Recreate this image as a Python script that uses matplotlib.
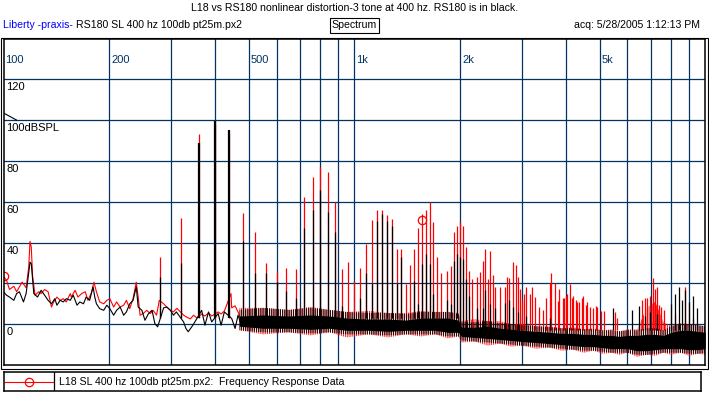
import numpy as np
import matplotlib
matplotlib.use("Agg")
import matplotlib.pyplot as plt
from matplotlib.patches import Rectangle

plt.rcParams['font.family'] = ['Liberation Sans', 'DejaVu Sans']
plt.rcParams['hatch.linewidth'] = 0.6

W, H = 709, 395
navy = '#003366'

# --- low frequency traces (100 - 480 Hz) ---
red_f = [100, 102, 104, 107, 109, 111, 113, 116, 118, 119,
         120, 121, 123, 126, 128, 131, 134, 137, 139, 142,
         145, 148, 151, 155, 156, 160, 163, 167, 171, 174,
         178, 181, 184, 188, 193, 197, 201, 206, 210, 215,
         220, 224, 229, 234, 239, 242, 245, 250, 256, 262,
         267, 273, 278, 286, 292, 299, 305, 312, 326, 333,
         341, 348, 356, 367, 375, 384, 392, 409, 417, 426,
         445, 447, 457, 466, 476]
red_db = [23.4, 21.5, 17, 18.6, 15.9, 18.3, 20.6, 17.9, 28, 40.6,
          37.7, 23.9, 14.2, 15.9, 15, 17, 15.9, 8.4, 10.9, 13.3,
          11.7, 12.5, 10.9, 15, 13.3, 16.6, 13.3, 15, 15.9, 11.7,
          15.3, 20.6, 15.9, 10.9, 10, 11.7, 12.5, 8.4, 10.9, 8.4,
          9.3, 11.7, 7.6, 12.5, 20.6, 13.3, 4.4, 5.2, 6.8, 5.2,
          6.8, 4.4, 11.7, 10, 8.4, 6.8, 6, 7.8, 4.4, 3.4,
          2.6, 4.4, 3, 5, 4, 5.5, 4, 6, 5, 6.5,
          15, 8, 9, 6, 2]

black_f = [100, 102, 104, 107, 109, 111, 114, 116, 119, 120,
           122, 125, 128, 131, 134, 137, 140, 142, 145, 148,
           151, 155, 158, 162, 165, 169, 172, 176, 180, 182,
           184, 188, 193, 197, 201, 206, 210, 215, 220, 224,
           229, 234, 239, 242, 248, 253, 259, 265, 270, 275,
           286, 292, 299, 305, 311, 326, 331, 336, 344, 351,
           367, 375, 384, 392, 409, 417, 426, 447, 457, 466,
           476]
black_db = [15.9, 14.2, 13.3, 11.7, 15, 15.9, 10.9, 15, 30.4, 29.6,
            15, 13.3, 16.6, 14.2, 11.7, 10, 12.5, 9.3, 11.7, 10.9,
            12.5, 11.7, 14.2, 9.3, 10.9, 10, 13.3, 11.7, 18.3, 13.3,
            10, 7.6, 6.8, 9.3, 7.6, 4.4, 6.8, 8.4, 4.4, 6,
            10, 11.7, 18.3, 8.4, 6.8, 1.9, 5.2, 6.8, 0.3, -1.3,
            8, 8.4, 6.8, 4.4, 6, 1.1, -2.1, -3.7, -1.3, 1.1,
            6.8, -0.5, 6, 1.1, 5.2, -0.5, 6, 2.8, -2.1, 4.4,
            -0.5]

# --- dense noise band above 470 Hz: outer edges and solid core ---
band_f = [470, 550, 650, 750, 850, 950, 1100, 1250, 1400, 1550,
          1700, 1850, 1980, 2020, 2200, 2400, 2600, 2800, 3000, 3300,
          3600, 3900, 4200, 4500, 4800, 5100, 5400, 5700, 6000, 6400,
          6800, 7200, 7600, 8000, 8500, 9000, 9500, 10000]
black_hi = [7, 8, 7, 8, 7, 6, 5.5, 5.5, 5, 6,
            6, 6, 5, 1, 1, 1.5, 0.5, 0, -0.5, -1,
            -1.5, -2, -2, -2.5, -2.5, -3, -3, -3.5, -3, -3,
            -2, -2, -3, -1, 0, 0, -0.5, -1]
black_lo = [-3, -4, -4, -4.5, -4, -5, -5, -5.5, -5, -5,
            -5, -6, -6, -8, -8.5, -9, -9.5, -10, -10.5, -11,
            -11.5, -12, -12.5, -13, -13, -13.5, -14, -14, -14, -15,
            -15, -14.5, -14, -14, -14, -14.5, -14.5, -14]
core_hi = [4, 4.5, 4, 4.5, 4, 3, 2.5, 2.5, 2, 3,
           3, 3, 2, -1.5, -1.5, -1, -2, -2.5, -3, -3.5,
           -4, -4.5, -4.5, -5, -5, -5.5, -5.5, -6, -5.5, -5.5,
           -5, -5, -5.5, -4, -3, -3, -3.5, -4]
core_lo = [-1, -2, -2, -2.5, -2, -3, -3, -3.5, -3, -3,
           -3, -4, -4, -6, -6.5, -7, -7.5, -8, -8.5, -9,
           -9.5, -10, -10.5, -11, -11, -11.5, -12, -12, -12, -13,
           -13, -12.5, -12, -12, -12, -12.5, -12.5, -12]
red_hi = [8, 8, 7, 8.5, 7, 6, 6.5, 5.5, 5.5, 6.5,
          6, 6, 5.5, 1.5, 2.5, 1.5, 1.5, 0, 0, -1,
          -1, -2, -1.5, -2.5, -2, -3, -2.5, -3.5, -2.5, -2.5,
          8, 11, 1, -1, 0.5, 0, -0.5, -1]
red_lo = [-3, -5, -4, -5.5, -4, -6.5, -5, -6.5, -5, -6,
          -5, -7, -6, -9, -8.5, -10.5, -9.5, -11, -10.5, -12,
          -11.5, -13, -12.5, -14, -13, -14.5, -14, -15, -14, -16,
          -15, -15.5, -14, -15, -14, -15.5, -14.5, -15]

# --- distortion product peaks (Hz, dB) ---
nan = np.nan
spike_f = [280, 320, 360, 400, 440, 480, 520, 560,
           600, 640, 680, 720, 760, 800, 840, 880,
           920, 960, 1000, 1040, 1080, 1120, 1160, 1200,
           1240, 1280, 1320, 1360, 1400, 1440, 1480, 1520,
           1560, 1600, 1640, 1680, 1720, 1760, 1840, 1880,
           1920, 1960, 2000, 2040, 2080, 2120, 2160, 2240,
           2280, 2320, 2360, 2400, 2440, 2480, 2520, 2600,
           2680, 2720, 2760, 2840, 2880, 2920, 2960, 3000,
           3040, 3080, 3160, 3200, 3280, 3360, 3440, 3520,
           3600, 3640, 3720, 3800, 3840, 3920, 3960, 4000,
           4040, 4120, 4160, 4200, 4280, 4320, 4360, 4440,
           4480, 4560, 4600, 4680, 4800, 4880, 4920, 5040,
           5160, 5440, 5520, 5600, 6200, 6480, 6600, 6720,
           6840, 6960, 7080, 7200, 7280, 7400, 7480, 7640,
           8000, 8200, 8400, 8560, 8760, 9000, 9200, 9480]
red_peak = [33, 52, 93, 98, 93, 54.5, 45, 30,
            25.5, 27.5, 27, 62.4, 72, 77, 74.6, 60,
            27, 30.4, 21, 27.5, 39.5, 51, 56, 56,
            53.7, 51.7, 37, 37, 19.5, 29, 37, 47,
            54, 56, 59.7, 50, 33, 25, 26, 28.5,
            45, 48, 50, 48, 38, 26, 22, 23,
            25.5, 31, 37, 22, 36, 24, 18, 18,
            18, 23, 22.5, 30.6, 29, 23, 17, 12,
            15, 18, 15, 18, 13.4, 8.5, 7, 13,
            20, 25, 20, 11.5, 17, 12.7, 12.7, 14,
            15, 19.5, 13, 14, 12, 11, 11, 13,
            14, 9.4, 11, 8.5, 7.8, 9, 8.5, 6.5,
            6.5, nan, 6, 3, nan, nan, 12, 13,
            13, 14, 22.6, 17, 18.4, 9.4, 8.5, 7,
            nan, 5, nan, nan, 18, nan, 3, nan]
black_peak = [23, 30, 89, 99.5, 95, 41, 25, 25,
              20.5, 16.5, 12.7, 47, 56, 66, 55, 45,
              9, nan, nan, 13, 25, 20, 50.6, 54,
              50.6, 48, 20, 33, nan, nan, 21, 10,
              29.7, 34.6, 29.7, 15, nan, nan, 12, 10,
              31, 34.6, 32.8, 32, 22, 14, nan, 8,
              nan, 7.8, 16.6, nan, 10, nan, 8, nan,
              10.4, nan, 12, 8.6, nan, 6, nan, nan,
              nan, 4, nan, nan, nan, nan, nan, nan,
              3, nan, nan, nan, nan, nan, nan, nan,
              nan, nan, nan, nan, nan, nan, nan, nan,
              nan, nan, nan, nan, nan, nan, nan, nan,
              nan, 8, nan, nan, 7, 9, nan, 4,
              nan, 6, nan, nan, 5, nan, nan, nan,
              10, 15, 18, 12, 16.6, 11, 14, 8]

cursor_f, cursor_db = 1560, 51
ref_level = 100

freq_ticks = [100, 200, 500, 1000, 2000, 5000]
freq_labels = ['100', '200', '500', '1k', '2k', '5k']
db_ticks = [120, 100, 80, 60, 40, 0]
db_labels = ['120', '100dBSPL', '80', '60', '40', '0']

title = 'L18 vs RS180 nonlinear distortion-3 tone at 400 hz. RS180 is in black.'
legend_label = 'L18 SL 400 hz 100db pt25m.px2:  Frequency Response Data'


def fx(x):
    return x / W


def fy(y):
    return 1 - y / H


fig = plt.figure(figsize=(W / 100, H / 100), dpi=100)
ax = fig.add_axes([fx(3.5), fy(365), fx(705.3) - fx(3.5), fy(38.5) - fy(365)])
ax.set_xscale('log')
ax.set_xlim(100, 10000)
ax.set_ylim(-20, 140)

minor = [m * d for d in (100, 1000) for m in range(1, 10)][1:]
for f in minor:
    ax.axvline(f, color=navy, lw=0.9, zorder=1)
for v in range(0, 140, 20):
    ax.axhline(v, color=navy, lw=0.9, zorder=1)

spike_f = np.array(spike_f)
base = np.where(spike_f < 2000, 3, -3)
lw_spk = np.where(np.nan_to_num(black_peak) > 80, 1.6, 0.9)

# red series first, black on top
ax.plot(red_f, red_db, color='red', lw=0.8, zorder=2,
        marker='o', markevery=[0], mfc='none', mec='red', ms=6, mew=0.9)
ax.fill_between(band_f, red_lo, red_hi, facecolor='none', edgecolor='red',
                hatch='|' * 9, lw=0, zorder=2)
ax.vlines(spike_f, base, red_peak, color='red', lw=0.9, zorder=2)

ax.plot(black_f, black_db, color='black', lw=0.8, zorder=3)
ax.fill_between(band_f, black_lo, black_hi, facecolor='none', edgecolor='black',
                hatch='|' * 9, lw=0, zorder=3)
ax.fill_between(band_f, core_lo, core_hi, color='black', lw=0, zorder=3)
ax.vlines(spike_f, base, black_peak, color='black', lw=lw_spk, zorder=3)

ax.plot([cursor_f], [cursor_db], 'o', mfc='none', mec='red', ms=6, mew=0.9, zorder=4)
ax.plot([100, 109], [ref_level + 3.5, ref_level], color='black', lw=0.8, zorder=4)

for f, lab in zip(freq_ticks, freq_labels):
    ax.annotate(lab, xy=(f, 129.5), xytext=(2, 0), textcoords='offset pixels',
                va='center', ha='left', color=navy, fontsize=8, zorder=5)
for v, lab in zip(db_ticks, db_labels):
    ax.annotate(lab, xy=(0, v), xycoords=('axes fraction', 'data'), xytext=(3, -3),
                textcoords='offset pixels', va='top', ha='left', color='black',
                fontsize=8, zorder=5)

ax.set_xticks([])
ax.set_yticks([])
ax.minorticks_off()
for s in ax.spines.values():
    s.set_linewidth(1.1)
    s.set_color('black')
    s.set_zorder(6)

# outer frame
fig.add_artist(Rectangle((fx(0.5), fy(368.5)), fx(707.5), fy(37.5) - fy(368.5),
                         transform=fig.transFigure, fill=False, ec='black', lw=0.8))

# header texts
hs = 7.6
fig.text(fx(354.5), fy(8), title, ha='center', va='center', fontsize=hs)
fig.text(fx(3), fy(25.5), 'Liberty -praxis-', ha='left', va='center', fontsize=hs, color='#0000ff')
fig.text(fx(76), fy(25.5), 'RS180 SL 400 hz 100db pt25m.px2', ha='left', va='center', fontsize=hs)
fig.text(fx(354.5), fy(25.5), 'Spectrum', ha='center', va='center', fontsize=hs,
         bbox=dict(boxstyle='square,pad=0.2', fc='white', ec='black', lw=0.8))
fig.text(fx(700), fy(25.5), 'acq: 5/28/2005 1:12:13 PM', ha='right', va='center', fontsize=hs)

# legend box
lax = fig.add_axes([fx(3.5), fy(391), fx(701) - fx(3.5), fy(372.3) - fy(391)])
lax.set_xlim(3.5, 701)
lax.set_ylim(0, 1)
lax.set_xticks([])
lax.set_yticks([])
for s in lax.spines.values():
    s.set_linewidth(1.1)
lax.plot([4.5, 53], [0.5, 0.5], color='red', lw=0.8)
lax.plot([29], [0.5], 'o', mfc='none', mec='red', ms=6, mew=0.9)
lax.axvline(54, color='black', lw=0.9)
lax.text(59, 0.5, legend_label, va='center', ha='left', fontsize=hs)

fig.savefig('out.png', dpi=100)
